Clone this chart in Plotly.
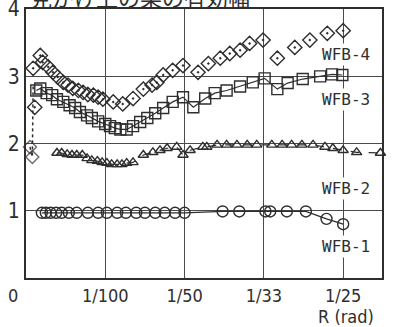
import plotly.graph_objects as go

# ---------------- data ----------------
tick_vals = [0, 1, 2, 3, 4]
tick_text = ["0\u00a0\u00a0\u00a0\u00a0\u00a0", "1/100", "1/50", "1/33", "1/25"]
y_tick_vals = [1, 2, 3, 4]

wfb4_x = [0.11, 0.09, 0.18, 0.21, 0.28, 0.34, 0.40, 0.47, 0.53, 0.59, 0.66, 0.72, 0.78, 0.85,
          0.91, 0.97, 1.10, 1.22, 1.35, 1.48, 1.59, 1.65, 1.73, 1.85, 1.98, 2.17, 2.30, 2.45,
          2.57, 2.70, 2.82, 2.99, 3.17, 3.39, 3.58, 3.80, 4.00]
wfb4_y = [2.54, 3.12, 3.31, 3.21, 3.14, 3.06, 2.99, 2.91, 2.87, 2.82, 2.79, 2.76, 2.73, 2.72,
          2.69, 2.66, 2.62, 2.59, 2.67, 2.81, 2.87, 2.91, 3.02, 3.09, 3.16, 3.06, 3.19, 3.27,
          3.34, 3.39, 3.49, 3.54, 3.27, 3.43, 3.54, 3.64, 3.68]

wfb3_x = [0.13, 0.18, 0.26, 0.33, 0.39, 0.47, 0.55, 0.62, 0.68, 0.77, 0.83, 0.91, 1.00, 1.06,
          1.12, 1.19, 1.27, 1.35, 1.44, 1.53, 1.63, 1.73, 1.85, 1.98, 2.11, 2.26, 2.38, 2.53,
          2.70, 2.86, 3.01, 3.17, 3.30, 3.49, 3.71, 3.86, 3.99]
wfb3_y = [2.79, 2.82, 2.75, 2.72, 2.66, 2.62, 2.57, 2.53, 2.47, 2.42, 2.38, 2.33, 2.29, 2.26,
          2.23, 2.21, 2.21, 2.26, 2.32, 2.38, 2.45, 2.53, 2.62, 2.69, 2.54, 2.67, 2.75, 2.79,
          2.85, 2.91, 2.97, 2.81, 2.90, 2.96, 3.00, 3.03, 3.02]
wfb3_start_x = [0.05, 0.08, 0.09]
wfb3_start_y = [1.95, 1.80, 2.85]

wfb2_x = [0.39, 0.45, 0.52, 0.58, 0.64, 0.71, 0.77, 0.83, 0.90, 0.96, 1.02, 1.08, 1.15, 1.21,
          1.27, 1.35, 1.48, 1.60, 1.69, 1.78, 1.90, 1.98, 2.07, 2.23, 2.28, 2.41, 2.53, 2.66,
          2.79, 2.91, 3.10, 3.23, 3.35, 3.48, 3.62, 3.77, 3.87, 4.00, 4.17, 4.47]
wfb2_y = [1.86, 1.86, 1.84, 1.83, 1.83, 1.83, 1.78, 1.75, 1.74, 1.72, 1.71, 1.69, 1.69, 1.69,
          1.71, 1.72, 1.83, 1.87, 1.90, 1.93, 1.95, 1.83, 1.90, 1.95, 1.95, 1.98, 1.98, 1.98,
          1.98, 1.98, 1.98, 1.98, 1.98, 1.98, 1.98, 1.95, 1.93, 1.90, 1.87, 1.86]

wfb1_x = [0.20, 0.25, 0.31, 0.38, 0.45, 0.54, 0.64, 0.78, 0.91, 1.02, 1.15, 1.26, 1.39, 1.50,
          1.63, 1.75, 1.88, 2.00, 2.48, 2.69, 3.02, 3.08, 3.29, 3.53, 3.79, 4.00]
wfb1_y = [0.97, 0.97, 0.97, 0.97, 0.97, 0.97, 0.97, 0.97, 0.97, 0.97, 0.97, 0.97, 0.97, 0.97,
          0.97, 0.97, 0.97, 0.97, 0.99, 0.99, 0.99, 0.99, 0.99, 0.99, 0.88, 0.80]

series_labels = ["WFB-4", "WFB-3", "WFB-2", "WFB-1"]
label_y = [3.33, 2.65, 1.33, 0.47]

title_text = "見かけ上の梁の有効幅"
x_title = "R (rad)"

# ---------------- style ----------------
INK = "#2e2e2e"
GRID = "#4a4a4a"
NUM_FONT = "Liberation Sans Narrow, DejaVu Sans Condensed, Arial Narrow, sans-serif"
LBL_FONT = "DejaVu Sans Mono, Liberation Mono, monospace"

fig = go.Figure()

fig.add_trace(go.Scatter(
    x=wfb3_start_x, y=wfb3_start_y, mode="lines+markers",
    line=dict(color=INK, width=1.5, dash="dot"),
    marker=dict(symbol=["diamond-open", "diamond-open", "circle"], size=[10, 10, 0],
                color=INK, line=dict(width=1.4, color=INK)),
    cliponaxis=False, showlegend=False))

fig.add_trace(go.Scatter(
    x=wfb4_x, y=wfb4_y, mode="markers",
    marker=dict(symbol="diamond-open-dot", size=11, color=INK, line=dict(width=1.4, color=INK)),
    cliponaxis=False, showlegend=False))

fig.add_trace(go.Scatter(
    x=wfb3_x, y=wfb3_y, mode="lines+markers",
    line=dict(color=INK, width=1.2),
    marker=dict(symbol="square-open", size=11, color=INK, line=dict(width=1.4, color=INK)),
    cliponaxis=False, showlegend=False))

fig.add_trace(go.Scatter(
    x=wfb2_x, y=wfb2_y, mode="lines+markers",
    line=dict(color=INK, width=1.2, dash="dash"),
    marker=dict(symbol="triangle-up-open", size=9, color=INK, line=dict(width=1.4, color=INK)),
    cliponaxis=False, showlegend=False))

fig.add_trace(go.Scatter(
    x=wfb1_x, y=wfb1_y, mode="lines+markers",
    line=dict(color=INK, width=1.3),
    marker=dict(symbol="circle-open", size=11, color=INK, line=dict(width=1.4, color=INK)),
    cliponaxis=False, showlegend=False))

for txt, yy in zip(series_labels, label_y):
    fig.add_annotation(x=4.03, y=yy, xref="x", yref="y", text=txt, showarrow=False,
                       font=dict(family=LBL_FONT, size=16, color=INK),
                       bgcolor="white", borderpad=1)

fig.add_annotation(x=4.03, y=-0.098, xref="x", yref="paper", text=x_title, showarrow=False,
                   yanchor="top",
                   font=dict(family=NUM_FONT, size=18, color=INK))

fig.add_annotation(x=0.005, y=1.048, xref="paper", yref="paper", text=title_text, showarrow=False,
                   xanchor="left", yanchor="middle",
                   font=dict(family="Noto Sans CJK JP", size=22, color=INK))

fig.update_xaxes(range=[0, 4.49], tickvals=tick_vals, ticktext=tick_text, ticks="",
                 automargin=False,
                 showgrid=True, gridcolor=GRID, gridwidth=1.3, zeroline=False,
                 showline=True, linecolor=INK, linewidth=2, mirror=True,
                 tickfont=dict(family=NUM_FONT, size=18, color=INK))
fig.update_yaxes(range=[0, 4.002], tickvals=y_tick_vals, ticks="",
                 ticklabeloverflow="allow", automargin=False,
                 showgrid=True, gridcolor=GRID, gridwidth=1.3, zeroline=False,
                 showline=True, linecolor=INK, linewidth=2, mirror=True,
                 tickfont=dict(family=NUM_FONT, size=21, color=INK))

fig.update_layout(width=401, height=327, margin=dict(l=26, r=19, t=9, b=49, autoexpand=False),
                  paper_bgcolor="white", plot_bgcolor="white", showlegend=False)

fig.write_html("out.html")
